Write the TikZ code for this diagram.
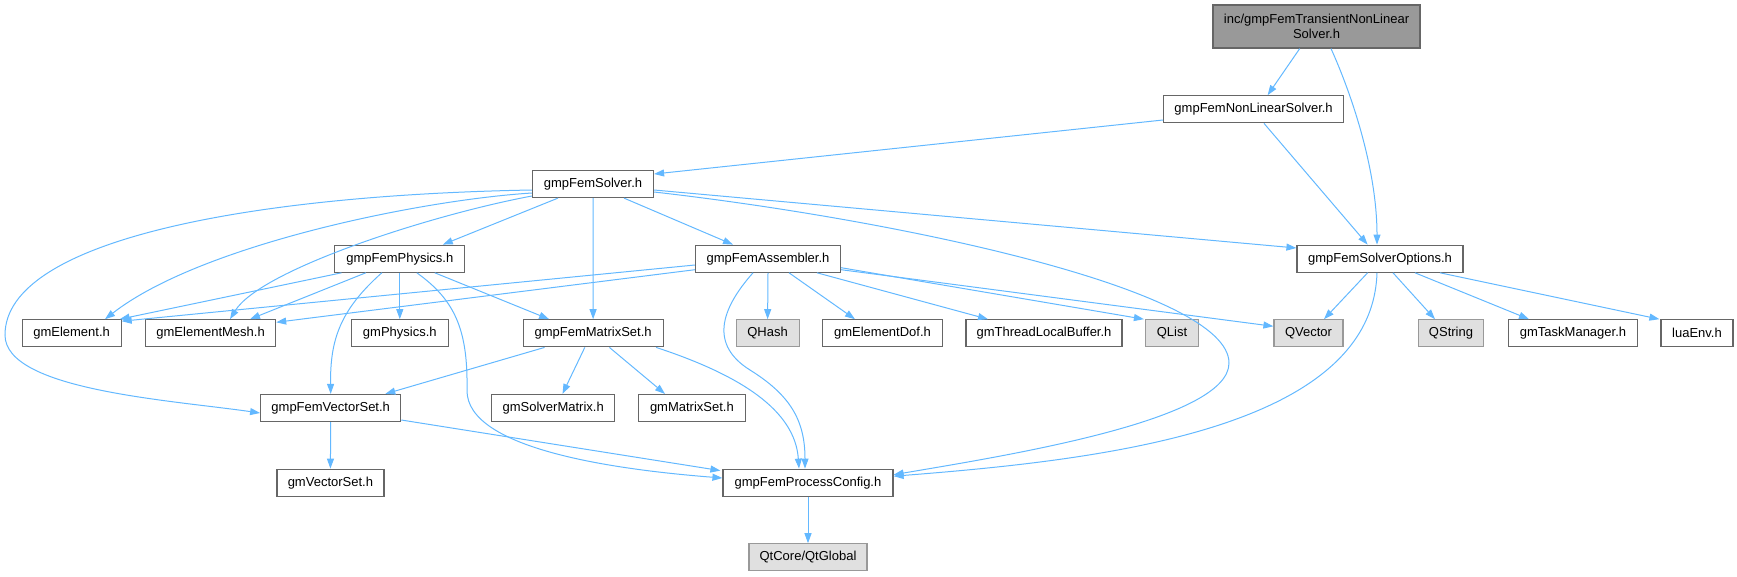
\documentclass[tikz,border=0pt]{standalone}
\usepackage{fontspec}
\setmainfont{Liberation Sans}
\usetikzlibrary{arrows.meta}
\definecolor{edgec}{HTML}{63B8FF}
\definecolor{boxline}{HTML}{666666}
\definecolor{extline}{HTML}{999999}
\definecolor{extfill}{HTML}{E0E0E0}
\definecolor{topfill}{HTML}{999999}
\tikzset{
  box/.style={draw=boxline, fill=white, line width=1.2pt, minimum height=27pt, inner sep=0pt,
    font=\fontsize{13}{15.5}\selectfont, text=black},
  extbox/.style={box, draw=extline, fill=extfill},
  topbox/.style={box, fill=topfill, minimum height=43pt, align=center},
  e/.style={draw=edgec, line width=1pt, -{Triangle[length=10pt,width=7pt]}},
}
\begin{document}
\begin{tikzpicture}[x=1pt,y=-1pt]
\useasboundingbox (0,0) rectangle (1737,576);
% nodes
\node[topbox, minimum width=207pt] (top) at (1316.5,26.5) {inc/gmpFemTransientNonLinear\\Solver.h};
\node[box, minimum width=180pt] (nls) at (1253.6,109.3) {gmpFemNonLinearSolver.h};
\node[box, minimum width=121pt] (solver) at (593,184) {gmpFemSolver.h};
\node[box, minimum width=166pt] (opts) at (1380,258.7) {gmpFemSolverOptions.h};
\node[box, minimum width=130pt] (physics) at (399.8,258.7) {gmpFemPhysics.h};
\node[box, minimum width=145pt] (assembler) at (768,258.7) {gmpFemAssembler.h};
\node[box, minimum width=99pt] (gmElement) at (71.6,333.3) {gmElement.h};
\node[box, minimum width=130pt] (gmElementMesh) at (210.6,333.3) {gmElementMesh.h};
\node[box, minimum width=97pt] (gmPhysics) at (399.8,333.3) {gmPhysics.h};
\node[box, minimum width=140pt] (matrixset) at (593.1,333.3) {gmpFemMatrixSet.h};
\node[extbox, minimum width=63pt] (qhash) at (767.6,333.3) {QHash};
\node[box, minimum width=120pt] (dof) at (882.5,333.3) {gmElementDof.h};
\node[box, minimum width=156pt] (tlb) at (1044,333.3) {gmThreadLocalBuffer.h};
\node[extbox, minimum width=53pt] (qlist) at (1172,333.3) {QList};
\node[extbox, minimum width=69pt] (qvector) at (1308.5,333.3) {QVector};
\node[extbox, minimum width=65.5pt] (qstring) at (1451,333.3) {QString};
\node[box, minimum width=129pt] (task) at (1573,333.3) {gmTaskManager.h};
\node[box, minimum width=72pt] (lua) at (1697,333.3) {luaEnv.h};
\node[box, minimum width=140pt] (vectorset) at (330.7,408) {gmpFemVectorSet.h};
\node[box, minimum width=123pt] (solvermatrix) at (553.2,408) {gmSolverMatrix.h};
\node[box, minimum width=106.6pt] (gmmatrixset) at (691.9,408) {gmMatrixSet.h};
\node[box, minimum width=107pt] (gmvectorset) at (330.4,482.7) {gmVectorSet.h};
\node[box, minimum width=170pt] (procconf) at (808,482.7) {gmpFemProcessConfig.h};
\node[extbox, minimum width=118pt] (qtglobal) at (808,557.3) {QtCore/QtGlobal};
% edges
\draw[e] ([xshift=-16.8pt]top.south) -- ([xshift=14pt]nls.north);
\draw[e] ([xshift=14.5pt]top.south) .. controls (1352,95) and (1377,170) .. ([xshift=-3pt]opts.north);
\draw[e] ([yshift=-10.7pt]nls.west) -- ([yshift=10pt]solver.east);
\draw[e] ([xshift=10.4pt]nls.south) -- ([xshift=-12.4pt]opts.north);
\draw[e] ([yshift=-6pt]solver.east) -- ([yshift=10.7pt]opts.west);
\draw[e] ([yshift=-8pt]solver.east) .. controls (900,220) and (1229,290) .. (1229,363)
   .. controls (1229,420) and (1010,455) .. ([yshift=8pt]procconf.east);
\draw[e] ([xshift=-35pt]solver.south) -- ([xshift=43pt]physics.north);
\draw[e] ([xshift=31pt]solver.south) -- ([xshift=-35pt]assembler.north);
\draw[e] (solver.south) -- (matrixset.north);
\draw[e] ([yshift=-9pt]solver.west) .. controls (420,200) and (200,245) .. ([xshift=33.4pt]gmElement.north);
\draw[e] ([yshift=-12pt]solver.west) .. controls (430,215) and (260,270) .. ([xshift=19.4pt]gmElementMesh.north);
\draw[e] ([yshift=-6pt]solver.west) .. controls (250,195) and (5,240) .. (5,335)
   .. controls (5,390) and (170,400) .. ([yshift=-5pt]vectorset.west);
\draw[e] ([xshift=-58.3pt]physics.south) -- ([xshift=-2pt]gmElement.north east);
\draw[e] ([yshift=-6.3pt]assembler.west) -- ([yshift=-2pt]gmElement.north east);
\draw[e] ([xshift=-34pt]physics.south) -- ([xshift=39.4pt]gmElementMesh.north);
\draw[e] ([yshift=-11pt]assembler.west) -- ([yshift=11pt]gmElementMesh.east);
\draw[e] ([xshift=-18pt]physics.south) .. controls (340,310) and (330,340) .. (vectorset.north);
\draw[e] (physics.south) -- (gmPhysics.north);
\draw[e] ([xshift=17pt]physics.south) .. controls (455,300) and (468,330) .. (467,390)
   .. controls (466,450) and (620,470) .. ([yshift=4.7pt]procconf.west);
\draw[e] ([xshift=35pt]physics.south) -- ([xshift=-44pt]matrixset.north);
\draw[e] ([xshift=-15pt]assembler.south) .. controls (720,310) and (710,345) .. (750,370)
   .. controls (790,395) and (805,420) .. ([xshift=-3pt]procconf.north);
\draw[e] (assembler.south) -- (qhash.north);
\draw[e] ([xshift=21pt]assembler.south) -- ([xshift=-27.5pt]dof.north);
\draw[e] ([xshift=49pt]assembler.south) -- ([xshift=-56pt]tlb.north);
\draw[e] ([yshift=-9pt]assembler.east) -- ([xshift=-1pt]qlist.north west);
\draw[e] ([yshift=-11pt]assembler.east) -- ([yshift=7pt]qvector.west);
\draw[e] ([xshift=-12.4pt]opts.south) -- ([xshift=15.5pt]qvector.north);
\draw[e] ([xshift=13pt]opts.south) -- ([xshift=-16pt]qstring.north);
\draw[e] ([xshift=35pt]opts.south) -- ([xshift=-44pt]task.north);
\draw[e] ([xshift=60pt]opts.south) -- ([xshift=-1pt]lua.north west);
\draw[e] ([xshift=-3pt]opts.south) .. controls (1372,430) and (1100,460) .. ([yshift=6.5pt]procconf.east);
\draw[e] ([xshift=-48.5pt]matrixset.south) -- ([xshift=-16pt]vectorset.north east);
\draw[e] ([xshift=-8.3pt]matrixset.south) -- ([xshift=9.3pt]solvermatrix.north);
\draw[e] ([xshift=16.3pt]matrixset.south) -- ([xshift=-26.9pt]gmmatrixset.north);
\draw[e] ([xshift=63pt]matrixset.south) .. controls (740,375) and (795,410) .. ([xshift=-9pt]procconf.north);
\draw[e] (vectorset.south) -- (gmvectorset.north);
\draw[e] ([yshift=-12pt]vectorset.east) -- ([xshift=-2pt,yshift=-2pt]procconf.north west);
\draw[e] (procconf.south) -- (qtglobal.north);
\end{tikzpicture}
\end{document}
